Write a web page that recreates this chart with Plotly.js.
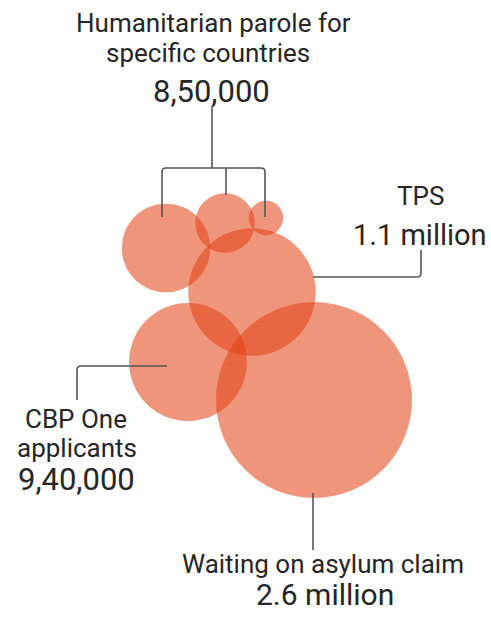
<!DOCTYPE html>
<html>
<head>
<meta charset="utf-8">
<script src="https://cdn.plot.ly/plotly-3.0.1.min.js"></script>
<style>
  html, body { margin: 0; padding: 0; background: #ffffff; }
  #chart { width: 491px; height: 617px; }
</style>
</head>
<body>
<div id="chart"></div>
<script>
// ---- Data ----
const groups = [
  "Humanitarian parole (group 1)",
  "Humanitarian parole (group 2)",
  "Humanitarian parole (group 3)",
  "TPS",
  "CBP One applicants",
  "Waiting on asylum claim"
];
const values = [530000, 240000, 80000, 1100000, 940000, 2600000];

const labelTexts = ["Humanitarian parole for", "specific countries", "TPS", "CBP One", "applicants", "Waiting on asylum claim"];
const numberTexts = ["8,50,000", "1.1 million", "9,40,000", "2.6 million"];

// ---- Layout (positions in pixel space of the 491x617 canvas) ----
const pos = {
  cx: [166, 225, 266, 252, 188, 314],
  cy: [248, 223, 218, 292, 362, 400]
};
const maxDiameter = 196;
const sizeref = 2 * Math.max(...values) / (maxDiameter * maxDiameter);

const FONT = "Roboto, 'Noto Sans', sans-serif";
const TXT = "#262626";
const LINE = "#555555";
const LS = 26, NS = 30;

function ann(text, x, baseline, size) {
  return {
    text: text, x: x, y: baseline - 0.342 * size, xref: "x", yref: "y",
    xanchor: "center", yanchor: "middle", showarrow: false,
    font: { family: FONT, size: size, color: TXT, weight: 400 }
  };
}

const annotations = [
  ann(labelTexts[0], 213, 32, LS),
  ann(labelTexts[1], 208, 62, LS),
  ann(numberTexts[0], 211, 102, NS + 1),
  ann(labelTexts[2], 420, 205, LS),
  ann(numberTexts[1], 420, 245, NS - 1),
  ann(labelTexts[3], 76, 428, LS),
  ann(labelTexts[4], 77, 457, LS),
  ann(numberTexts[2], 76, 490, NS + 1),
  ann(labelTexts[5], 323, 573, LS),
  ann(numberTexts[3], 325, 605, NS)
];

const lineStyle = { color: LINE, width: 1.6 };
const shapes = [
  { type: "path", xref: "x", yref: "y", path: "M212,106 L212,168", line: lineStyle },
  { type: "path", xref: "x", yref: "y", path: "M162,217 L162,172 Q162,168 166,168 L261,168 Q265,168 265,172 L265,217", line: lineStyle },
  { type: "path", xref: "x", yref: "y", path: "M226,168 L226,195", line: lineStyle },
  { type: "path", xref: "x", yref: "y", path: "M313,277 L417,277 Q421,277 421,273 L421,250", line: lineStyle },
  { type: "path", xref: "x", yref: "y", path: "M167,366 L81,366 Q77,366 77,370 L77,400", line: lineStyle },
  { type: "path", xref: "x", yref: "y", path: "M313,493 L313,550", line: lineStyle }
];

const trace = {
  type: "scatter",
  mode: "markers",
  x: pos.cx,
  y: pos.cy,
  text: groups,
  hoverinfo: "text",
  marker: {
    size: values,
    sizemode: "area",
    sizeref: sizeref,
    color: "rgb(226,66,22)",
    opacity: 0.56,
    line: { width: 0 }
  }
};

const layout = {
  width: 491, height: 617,
  margin: { l: 0, r: 0, t: 0, b: 0, pad: 0 },
  paper_bgcolor: "#ffffff", plot_bgcolor: "#ffffff",
  showlegend: false,
  xaxis: { range: [0, 491], visible: false, fixedrange: true },
  yaxis: { range: [617, 0], visible: false, fixedrange: true },
  annotations: annotations,
  shapes: shapes
};

Plotly.newPlot("chart", [trace], layout, { displayModeBar: false, staticPlot: true });
</script>
</body>
</html>
